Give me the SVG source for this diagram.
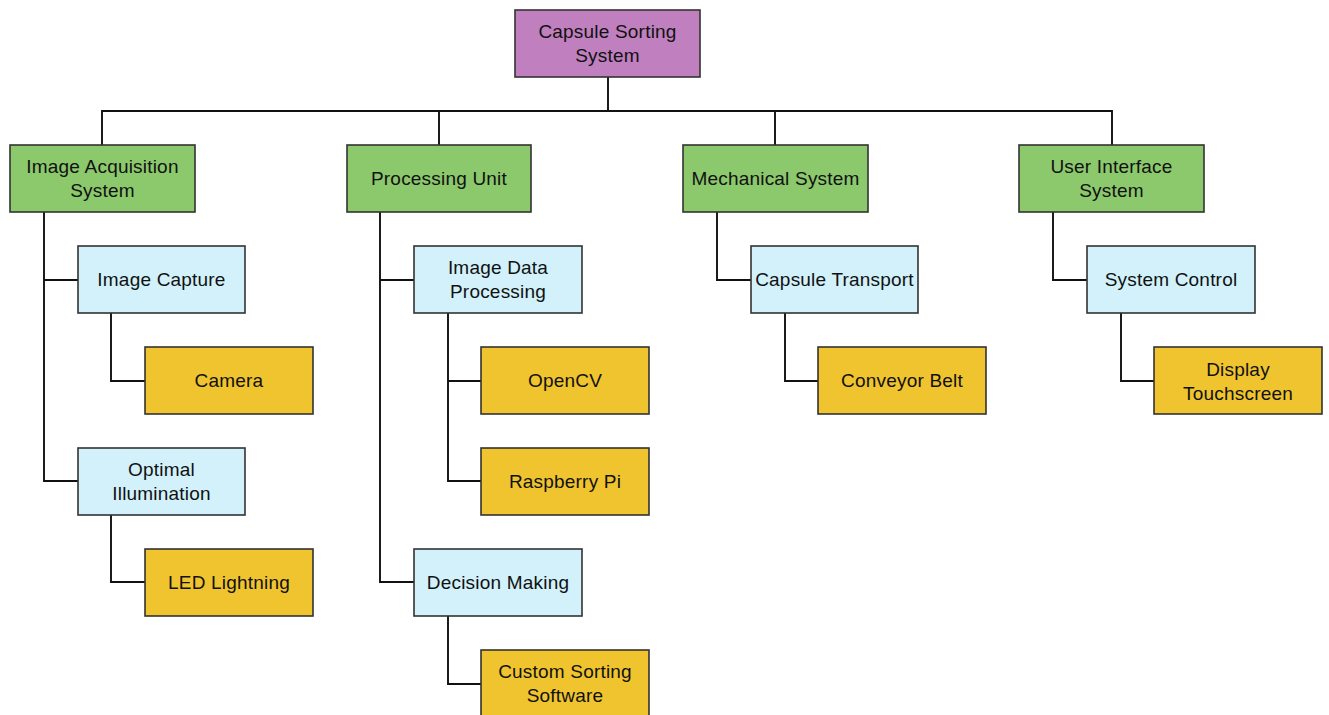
<svg xmlns="http://www.w3.org/2000/svg" width="1329" height="715" viewBox="0 0 1329 715">
<style>
rect{stroke:#333;stroke-width:1.6}
.r{fill:#C07FBF}
.g{fill:#8CC86C}
.b{fill:#D2F1FB}
.y{fill:#EFC42F}
text{font-family:"Liberation Sans",Arial,sans-serif;font-size:19px;letter-spacing:0.2px;fill:#111;text-anchor:middle;dominant-baseline:central}
#connectors path{fill:none;stroke:#111;stroke-width:1.9}
</style>
<rect width="1329" height="715" fill="#fff" style="stroke:none"/>
<g id="connectors">
<path d="M608 77V111M102 145V111H1112V145M439 111V145M775 111V145"/>
<path d="M44 212V481H78M44 280H78M111 313V381H145M111 515V582H145"/>
<path d="M380 212V582H414M380 280H414M448 313V481H481M448 381H481M448 616V684H481"/>
<path d="M717 212V280H751M785 313V381H818"/>
<path d="M1053 212V280H1087M1121 313V381H1154"/>
</g>
<g id="root"><rect class="r" x="515" y="10" width="185" height="67"/><text x="607.5" y="31.5">Capsule Sorting</text><text x="607.5" y="55.5">System</text></g>
<g id="image-acquisition"><rect class="g" x="10" y="145" width="185" height="67"/><text x="102.5" y="166.5">Image Acquisition</text><text x="102.5" y="190.5">System</text></g>
<g id="processing-unit"><rect class="g" x="347" y="145" width="184" height="67"/><text x="439" y="178.5">Processing Unit</text></g>
<g id="mechanical-system"><rect class="g" x="683" y="145" width="185" height="67"/><text x="775.5" y="178.5">Mechanical System</text></g>
<g id="user-interface"><rect class="g" x="1019" y="145" width="185" height="67"/><text x="1111.5" y="166.5">User Interface</text><text x="1111.5" y="190.5">System</text></g>
<g id="image-capture"><rect class="b" x="78" y="246" width="167" height="67"/><text x="161.5" y="279.5">Image Capture</text></g>
<g id="optimal-illumination"><rect class="b" x="78" y="448" width="167" height="67"/><text x="161.5" y="469.5">Optimal</text><text x="161.5" y="493.5">Illumination</text></g>
<g id="image-data-processing"><rect class="b" x="414" y="246" width="168" height="67"/><text x="498" y="267.5">Image Data</text><text x="498" y="291.5">Processing</text></g>
<g id="decision-making"><rect class="b" x="414" y="549" width="168" height="67"/><text x="498" y="582.5">Decision Making</text></g>
<g id="capsule-transport"><rect class="b" x="751" y="246" width="167" height="67"/><text x="834.5" y="279.5">Capsule Transport</text></g>
<g id="system-control"><rect class="b" x="1087" y="246" width="168" height="67"/><text x="1171" y="279.5">System Control</text></g>
<g id="camera"><rect class="y" x="145" y="347" width="168" height="67"/><text x="229" y="380.5">Camera</text></g>
<g id="led-lightning"><rect class="y" x="145" y="549" width="168" height="67"/><text x="229" y="582.5">LED Lightning</text></g>
<g id="opencv"><rect class="y" x="481" y="347" width="168" height="67"/><text x="565" y="380.5">OpenCV</text></g>
<g id="raspberry-pi"><rect class="y" x="481" y="448" width="168" height="67"/><text x="565" y="481.5">Raspberry Pi</text></g>
<g id="custom-sorting-software"><rect class="y" x="481" y="650" width="168" height="68"/><text x="565" y="671.5">Custom Sorting</text><text x="565" y="695.5">Software</text></g>
<g id="conveyor-belt"><rect class="y" x="818" y="347" width="168" height="67"/><text x="902" y="380.5">Conveyor Belt</text></g>
<g id="display-touchscreen"><rect class="y" x="1154" y="347" width="168" height="67"/><text x="1238" y="369.5">Display</text><text x="1238" y="393.5">Touchscreen</text></g>
</svg>
